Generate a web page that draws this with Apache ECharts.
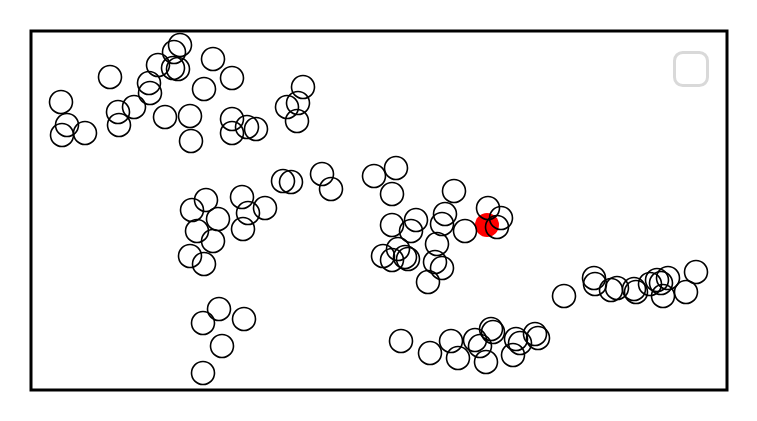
<!DOCTYPE html>
<html><head><meta charset="utf-8">
<script src="https://cdn.jsdelivr.net/npm/echarts@6/dist/echarts.min.js"></script>
<style>html,body{margin:0;padding:0;background:#fff}#c{width:757px;height:421px}</style>
</head><body><div id="c"></div>
<script>
const xValues = [30,36,31,54,79,87,88,103,118,119,127,143,149,142,147,134,159,160,173,182,201,201,201,216,225,272,256,267,266,
161,175,187,166,182,159,173,211,217,212,234,252,260,291,300,
343,365,361,423,361,385,380,414,411,434,457,470,466,352,361,367,374,377,406,404,411,397,
188,172,213,191,172,
370,399,420,427,444,449,455,460,462,482,485,489,504,507,
533,563,564,580,586,603,605,619,626,630,632,637,655,665];
const yValues = [288,265,255,257,313,278,265,283,307,297,325,338,345,322,321,273,274,249,301,331,312,271,257,263,261,303,283,287,269,
180,190,171,159,149,134,126,193,177,161,182,209,208,216,201,
214,222,196,199,165,170,159,176,166,159,182,172,163,134,130,141,133,131,146,128,122,108,
81,67,71,44,17,
49,37,49,32,50,44,28,61,58,35,51,47,56,52,
94,112,106,100,102,101,98,106,110,107,94,112,98,118];
const highlightX = [456];
const highlightY = [165];

const chart = echarts.init(document.getElementById('c'));
chart.setOption({
  animation: false,
  grid: {left: 31, right: 30, top: 31, bottom: 31, show: true, borderColor: '#000', borderWidth: 3, backgroundColor: 'transparent'},
  xAxis: {type: 'value', min: 0, max: 696, show: false},
  yAxis: {type: 'value', min: 0, max: 359, show: false},
  legend: {
    show: true, left: 673, top: 51, padding: 0, itemGap: 0, itemWidth: 33, itemHeight: 33, icon: 'roundRect',
    data: [{name: 'points', itemStyle: {color: 'transparent', borderColor: '#d9d9d9', borderWidth: 3}}],
    formatter: () => '', textStyle: {fontSize: 1}, selectedMode: false
  },
  series: [
    {type: 'scatter', name: 'highlight', data: highlightX.map((x, i) => [x, highlightY[i]]),
     symbol: 'circle', symbolSize: 24, itemStyle: {color: '#ff0000', opacity: 1}, z: 1},
    {type: 'scatter', name: 'points', data: xValues.map((x, i) => [x, yValues[i]]),
     symbol: 'circle', symbolSize: 23,
     itemStyle: {color: 'transparent', borderColor: '#000', borderWidth: 1.6, opacity: 1}, z: 2}
  ]
});
</script></body></html>
